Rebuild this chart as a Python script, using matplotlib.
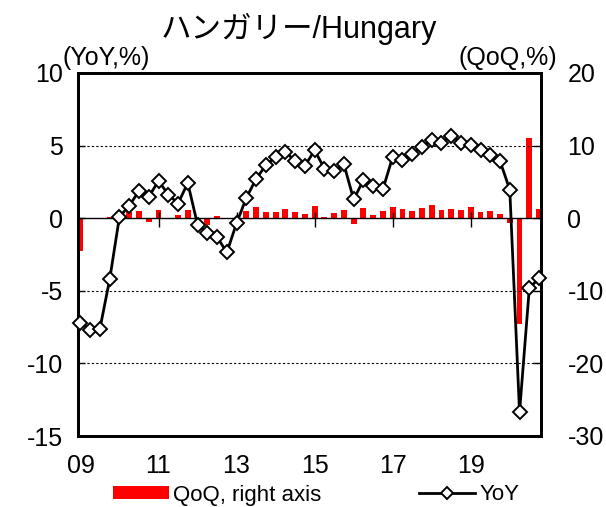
import numpy as np
import matplotlib
matplotlib.use("Agg")
import matplotlib.pyplot as plt
from matplotlib.patches import Patch
from matplotlib.lines import Line2D

plt.rcParams['font.family'] = ['Liberation Sans', 'Noto Sans CJK JP', 'DejaVu Sans']
plt.rcParams['axes.unicode_minus'] = False

# Quarterly data 2009Q1 .. 2020Q4
yoy = [-7.2, -7.7, -7.6, -4.2,
       0.1, 0.85, 1.88, 1.47,
       2.57, 1.63, 1.01, 2.43,
       -0.44, -1.01, -1.29, -2.36,
       -0.35, 1.4, 2.7, 3.65,
       4.22, 4.57, 3.95, 3.6,
       4.68, 3.42, 3.26, 3.72,
       1.29, 2.62, 2.23, 2.0,
       4.22, 3.99, 4.45, 4.93,
       5.37, 5.21, 5.67, 5.21,
       5.07, 4.73, 4.34, 3.93,
       1.97, -13.38, -4.84, -4.11]
qoq = [-4.5, -0.1, 0.05, 0.2,
       0.3, 0.8, 1.0, -0.5,
       1.1, 0.05, 0.4, 1.1,
       -1.3, -0.9, 0.25, -0.1,
       0.05, 1.0, 1.5, 0.9,
       0.8, 1.25, 0.9, 0.55,
       1.7, 0.1, 0.75, 1.1,
       -0.85, 1.4, 0.5, 0.95,
       1.5, 1.25, 0.95, 1.4,
       1.8, 1.1, 1.33, 1.1,
       1.55, 0.8, 0.95, 0.55,
       -0.6, -14.6, 11.0, 1.33]
tick_pos = [0, 8, 16, 24, 32, 40]
tick_labels = ['09', '11', '13', '15', '17', '19']
left_ticks = [-15, -10, -5, 0, 5, 10]
right_ticks = [-30, -20, -10, 0, 10, 20]
grid_vals = [5, -5, -10]

x = np.arange(len(yoy))

fig = plt.figure(figsize=(6.06, 5.07), dpi=100)
ax1 = fig.add_axes([78/606, 1-436/507, 463/606, 363/507])
ax2 = ax1.twinx()
ax1.set_zorder(2)
ax1.patch.set_visible(False)

ax2.bar(x, qoq, width=0.6, color='#FF0000', zorder=2)
ax2.set_ylim(-30, 20)
ax2.set_yticks(right_ticks)
ax2.set_yticklabels([str(v) for v in right_ticks])

for g in grid_vals:
    ax1.axhline(g, color='black', lw=0.8, ls=(0, (2, 2)), zorder=1)
ax1.axhline(0, color='black', lw=1.0, zorder=1)
ax1.vlines(tick_pos[1:], -0.6, 0.4, color='black', lw=1.0, zorder=1)

ax1.plot(x, yoy, color='black', lw=2.0, marker='D', ms=7.2,
         mfc='white', mec='black', mew=1.4, zorder=3, clip_on=False)

ax1.set_ylim(-15, 10)
ax1.set_xlim(-0.25, 47.2)
ax1.set_yticks(left_ticks)
ax1.set_yticklabels([str(v) for v in left_ticks])
ax1.set_xticks(tick_pos)
ax1.set_xticklabels(tick_labels)

ax1.tick_params(axis='x', length=0, pad=13, labelsize=18)
ax1.tick_params(axis='y', direction='in', length=5, width=1, pad=11, labelsize=18)
ax2.tick_params(axis='y', direction='in', length=6, width=1, pad=19, labelsize=18)

for ax in (ax1, ax2):
    for s in ax.spines.values():
        s.set_linewidth(2.0)
        s.set_color('black')

fig.text(0.494, 1-29/507, 'ハンガリー/Hungary', ha='center', va='center', fontsize=22,
         family=['Liberation Sans', 'Noto Sans CJK JP'])
fig.text(63/606, 1-58/507, '(YoY,%)', ha='left', va='center', fontsize=18)
fig.text(557/606, 1-58/507, '(QoQ,%)', ha='right', va='center', fontsize=18)

handles = [Patch(facecolor='#FF0000', edgecolor='none'),
           Line2D([], [], color='black', lw=2.0, marker='D', ms=6.5, mfc='white', mec='black', mew=1.4)]
fig.legend(handles, ['QoQ, right axis', 'YoY'], loc='center', bbox_to_anchor=(0.522, 1-495/507),
           ncol=2, frameon=False, fontsize=16, handlelength=2.5, handleheight=0.55,
           handletextpad=0.2, columnspacing=4.4, borderpad=0, borderaxespad=0)

fig.savefig('out.png', dpi=100)
